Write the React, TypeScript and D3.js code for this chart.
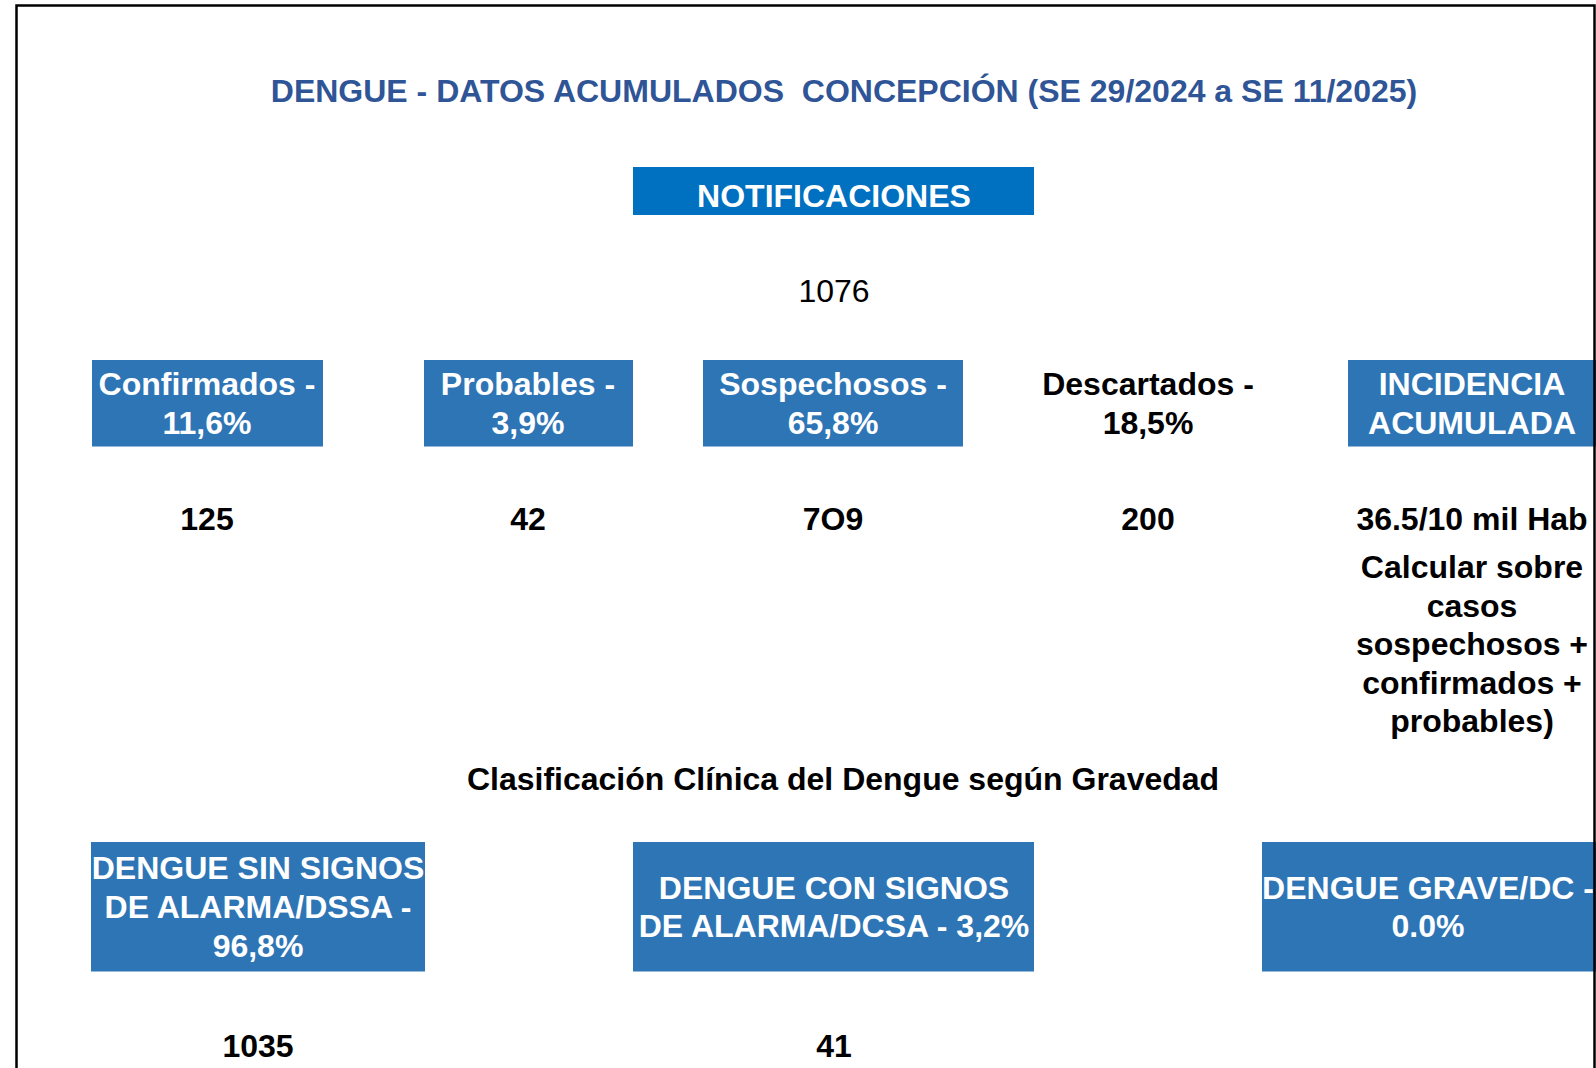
import React from 'react';
import * as d3 from 'd3';

// --- data ---
const title = 'DENGUE - DATOS ACUMULADOS  CONCEPCIÓN (SE 29/2024 a SE 11/2025)';
const notifLabel = 'NOTIFICACIONES';
const notifTotal = '1076';

const topCategories = ['Confirmados', 'Probables', 'Sospechosos', 'Descartados', 'Incidencia'];
const topLabels = [
  ['Confirmados -', '11,6%'],
  ['Probables -', '3,9%'],
  ['Sospechosos -', '65,8%'],
  ['Descartados -', '18,5%'],
  ['INCIDENCIA', 'ACUMULADA'],
];
const topValues = ['125', '42', '7O9', '200', '36.5/10 mil Hab'];
const topBoxed = [true, true, true, false, true];
const incidenceNote = ['Calcular sobre', 'casos', 'sospechosos +', 'confirmados +', 'probables)'];

const sevTitle = 'Clasificación Clínica del Dengue según Gravedad';
const sevCategories = ['DSSA', 'DCSA', 'DC'];
const sevLabels = [
  ['DENGUE SIN SIGNOS', 'DE ALARMA/DSSA -', '96,8%'],
  ['DENGUE CON SIGNOS', 'DE ALARMA/DCSA - 3,2%'],
  ['DENGUE GRAVE/DC -', '0.0%'],
];
const sevValues = ['1035', '41', ''];

// --- layout ---
const W = 1596;
const H = 1068;
const FONT = '"Liberation Sans", Arial, Helvetica, sans-serif';
const FS = 32;
const LINE = 38.6;
const CAP = 22.6;
const BOX_BLUE = '#2E75B6';
const NOTIF_BLUE = '#0070C0';
const TITLE_BLUE = '#2F5597';

// box edges for each column [left, right]
const topEdges = [[92, 323], [424, 633], [703, 963], [1045, 1255], [1348, 1600]];
const sevEdges = [[91, 425], [633, 1034], [1262, 1600]];

const xTop = d3.scaleOrdinal<string, number>()
  .domain(topCategories)
  .range([207, 528, 833, 1148, 1472]);
const xSev = d3.scaleOrdinal<string, number>()
  .domain(sevCategories)
  .range([258, 834, 1428]);

// baselines for n lines centered vertically on cy
const baselines = (n: number, cy: number) =>
  d3.range(n).map(i => cy + CAP / 2 - ((n - 1) * LINE) / 2 + i * LINE);

const App = () => {
  const topY0 = 360, topY1 = 446.5;
  const sevY0 = 842, sevY1 = 971.5;

  return (
    <svg
      width={W}
      height={H}
      style={{ position: 'absolute', left: 0, top: 0, background: '#fff' }}
      fontFamily={FONT}
      fontSize={FS}
    >
      <rect x={0} y={0} width={W} height={H} fill="#fff" />

      {/* title */}
      <text x={844} y={101.5} textAnchor="middle" fontWeight="bold" fill={TITLE_BLUE}
        style={{ whiteSpace: 'pre' }}>
        {title}
      </text>

      {/* notifications */}
      <rect x={633} y={167} width={401} height={48} fill={NOTIF_BLUE} />
      <text x={834} y={207} textAnchor="middle" fontWeight="bold" fill="#fff">{notifLabel}</text>
      <text x={834} y={302} textAnchor="middle" fill="#000">{notifTotal}</text>

      {/* top row */}
      {topCategories.map((c, i) => {
        const cx = xTop(c);
        const [l, r] = topEdges[i];
        const ys = baselines(topLabels[i].length, (topY0 + topY1) / 2);
        return (
          <g key={c}>
            {topBoxed[i] && <rect x={l} y={topY0} width={r - l} height={topY1 - topY0} fill={BOX_BLUE} />}
            {topLabels[i].map((t, j) => (
              <text key={j} x={cx} y={ys[j]} textAnchor="middle" fontWeight="bold"
                fill={topBoxed[i] ? '#fff' : '#000'}>{t}</text>
            ))}
            <text x={cx} y={530} textAnchor="middle" fontWeight="bold" fill="#000">{topValues[i]}</text>
          </g>
        );
      })}
      {incidenceNote.map((t, j) => (
        <text key={j} x={xTop('Incidencia')} y={578 + j * 38.6} textAnchor="middle"
          fontWeight="bold" fill="#000">{t}</text>
      ))}

      {/* severity */}
      <text x={843} y={790} textAnchor="middle" fontWeight="bold" fill="#000">{sevTitle}</text>
      {sevCategories.map((c, i) => {
        const cx = xSev(c);
        const [l, r] = sevEdges[i];
        const ys = baselines(sevLabels[i].length, (sevY0 + sevY1) / 2);
        return (
          <g key={c}>
            <rect x={l} y={sevY0} width={r - l} height={sevY1 - sevY0} fill={BOX_BLUE} />
            {sevLabels[i].map((t, j) => (
              <text key={j} x={cx} y={ys[j]} textAnchor="middle" fontWeight="bold" fill="#fff">{t}</text>
            ))}
            {sevValues[i] && (
              <text x={cx} y={1056.5} textAnchor="middle" fontWeight="bold" fill="#000">{sevValues[i]}</text>
            )}
          </g>
        );
      })}

      {/* frame */}
      <rect x={16.5} y={5.5} width={1578} height={1100} fill="none" stroke="#000" strokeWidth={2.5} />
    </svg>
  );
};

export default App;
